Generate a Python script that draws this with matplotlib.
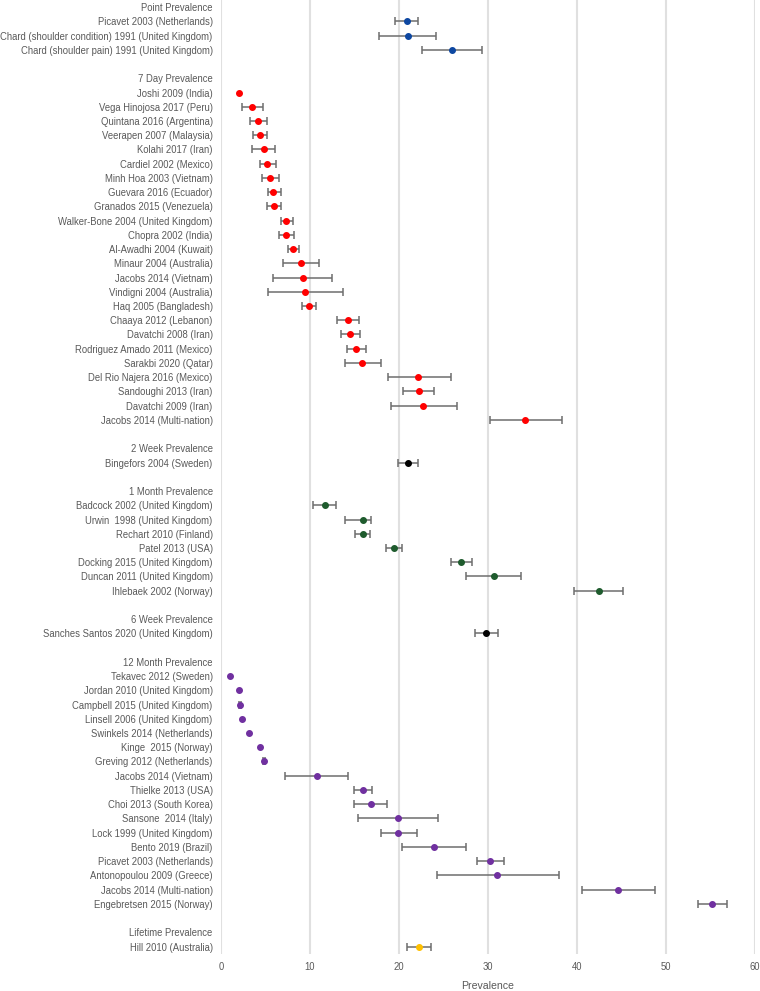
import matplotlib
matplotlib.use("Agg")
import matplotlib.pyplot as plt

# study groups: (header, colour, labels, point estimate, lower CI, upper CI)
point_labels = ["Picavet 2003 (Netherlands)",
                "Chard (shoulder condition) 1991 (United Kingdom)",
                "Chard (shoulder pain) 1991 (United Kingdom)"]
point_vals = [20.9, 21.0, 26.0]
point_lo = [19.55, 17.8, 22.6]
point_hi = [22.2, 24.2, 29.4]

day7_labels = ["Joshi 2009 (India)", "Vega Hinojosa 2017 (Peru)", "Quintana 2016 (Argentina)",
               "Veerapen 2007 (Malaysia)", "Kolahi 2017 (Iran)", "Cardiel 2002 (Mexico)",
               "Minh Hoa 2003 (Vietnam)", "Guevara 2016 (Ecuador)", "Granados 2015 (Venezuela)",
               "Walker-Bone 2004 (United Kingdom)", "Chopra 2002 (India)", "Al-Awadhi 2004 (Kuwait)",
               "Minaur 2004 (Australia)", "Jacobs 2014 (Vietnam)", "Vindigni 2004 (Australia)",
               "Haq 2005 (Bangladesh)", "Chaaya 2012 (Lebanon)", "Davatchi 2008 (Iran)",
               "Rodriguez Amado 2011 (Mexico)", "Sarakbi 2020 (Qatar)", "Del Rio Najera 2016 (Mexico)",
               "Sandoughi 2013 (Iran)", "Davatchi 2009 (Iran)", "Jacobs 2014 (Multi-nation)"]
day7_vals = [2.0, 3.5, 4.2, 4.4, 4.8, 5.2, 5.5, 5.9, 6.0, 7.35, 7.35, 8.15,
             8.95, 9.2, 9.5, 9.85, 14.27, 14.46, 15.17, 15.86, 22.1, 22.3, 22.7, 34.2]
day7_lo = [2.0, 2.4, 3.3, 3.6, 3.45, 4.35, 4.6, 5.25, 5.2, 6.7, 6.55, 7.5,
           6.97, 5.9, 5.3, 9.07, 13.1, 13.5, 14.2, 13.9, 18.8, 20.5, 19.1, 30.3]
day7_hi = [2.0, 4.7, 5.2, 5.2, 6.1, 6.2, 6.5, 6.7, 6.8, 8.05, 8.25, 8.8,
           11.05, 12.5, 13.7, 10.7, 15.5, 15.6, 16.3, 17.96, 25.9, 24.0, 26.5, 38.3]

week2_labels = ["Bingefors 2004 (Sweden)"]
week2_vals = [21.0]
week2_lo = [19.9]
week2_hi = [22.2]

month1_labels = ["Badcock 2002 (United Kingdom)", "Urwin  1998 (United Kingdom)",
                 "Rechart 2010 (Finland)", "Patel 2013 (USA)", "Docking 2015 (United Kingdom)",
                 "Duncan 2011 (United Kingdom)", "Ihlebaek 2002 (Norway)"]
month1_vals = [11.66, 15.97, 15.97, 19.5, 27.0, 30.7, 42.5]
month1_lo = [10.4, 13.97, 15.1, 18.6, 25.9, 27.6, 39.7]
month1_hi = [12.9, 16.9, 16.8, 20.4, 28.2, 33.75, 45.2]

week6_labels = ["Sanches Santos 2020 (United Kingdom)"]
week6_vals = [29.8]
week6_lo = [28.6]
week6_hi = [31.1]

month12_labels = ["Tekavec 2012 (Sweden)", "Jordan 2010 (United Kingdom)",
                  "Campbell 2015 (United Kingdom)", "Linsell 2006 (United Kingdom)",
                  "Swinkels 2014 (Netherlands)", "Kinge  2015 (Norway)",
                  "Greving 2012 (Netherlands)", "Jacobs 2014 (Vietnam)", "Thielke 2013 (USA)",
                  "Choi 2013 (South Korea)", "Sansone  2014 (Italy)", "Lock 1999 (United Kingdom)",
                  "Bento 2019 (Brazil)", "Picavet 2003 (Netherlands)", "Antonopoulou 2009 (Greece)",
                  "Jacobs 2014 (Multi-nation)", "Engebretsen 2015 (Norway)"]
month12_vals = [1.0, 2.0, 2.1, 2.4, 3.1, 4.35, 4.85, 10.8, 15.96, 16.85, 19.85, 19.9,
                24.0, 30.26, 31.0, 44.7, 55.2]
month12_lo = [1.0, 2.0, 2.0, 2.4, 3.1, 4.35, 4.7, 7.2, 15.0, 15.0, 15.4, 17.95,
              20.3, 28.8, 24.3, 40.6, 53.6]
month12_hi = [1.0, 2.0, 2.2, 2.4, 3.1, 4.35, 5.0, 14.3, 16.97, 18.7, 24.4, 22.0,
              27.5, 31.8, 37.98, 48.8, 56.9]

life_labels = ["Hill 2010 (Australia)"]
life_vals = [22.26]
life_lo = [20.96]
life_hi = [23.57]

groups = [
    ("Point Prevalence", "#0d47a1", point_labels, point_vals, point_lo, point_hi),
    ("7 Day Prevalence", "#ff0000", day7_labels, day7_vals, day7_lo, day7_hi),
    ("2 Week Prevalence", "#000000", week2_labels, week2_vals, week2_lo, week2_hi),
    ("1 Month Prevalence", "#1e5b2d", month1_labels, month1_vals, month1_lo, month1_hi),
    ("6 Week Prevalence", "#000000", week6_labels, week6_vals, week6_lo, week6_hi),
    ("12 Month Prevalence", "#7030a0", month12_labels, month12_vals, month12_lo, month12_hi),
    ("Lifetime Prevalence", "#ffc000", life_labels, life_vals, life_lo, life_hi),
]

plt.rcParams['font.family'] = ['Liberation Sans', 'DejaVu Sans']

fig = plt.figure(figsize=(7.6, 9.91), dpi=100)
ax = fig.add_axes([0.2908, 0.0377, 0.702, 0.9623])

ytick_pos = []
ytick_lab = []
row = 0
for gi, (header, color, labels, vals, lo, hi) in enumerate(groups):
    ytick_pos.append(row)
    ytick_lab.append(header)
    row += 1
    ys = list(range(row, row + len(labels)))
    # error bars only where a confidence interval is reported
    ci = [i for i in range(len(vals)) if hi[i] > lo[i]]
    if ci:
        ax.errorbar([vals[i] for i in ci], [ys[i] for i in ci],
                    xerr=[[vals[i] - lo[i] for i in ci], [hi[i] - vals[i] for i in ci]],
                    fmt='none', ecolor='#6e6e6e', elinewidth=1.1,
                    capsize=2.6, capthick=1.1, zorder=2)
    ax.plot(vals, ys, 'o', color=color, markersize=4.0, zorder=3)
    ytick_pos.extend(ys)
    ytick_lab.extend(labels)
    row += len(labels)
    if gi < len(groups) - 1:
        row += 1  # blank spacer row

ax.set_xlim(0, 60)
ax.set_ylim(row - 0.5, -0.5)
ax.set_xticks(range(0, 61, 10))
ax.set_yticks(ytick_pos)
ax.set_yticklabels(ytick_lab)
ax.tick_params(axis='both', length=0, labelsize=6.85, colors='#595959')
ax.tick_params(axis='y', pad=6)
ax.tick_params(axis='x', pad=6)
ax.grid(axis='x', color='#e0e0e0', linewidth=1.5)
ax.set_axisbelow(True)
for s in ax.spines.values():
    s.set_visible(False)
ax.set_xlabel('Prevalence', fontsize=7.6, color='#595959', labelpad=6.5)

fig.savefig('out.png', dpi=100)
